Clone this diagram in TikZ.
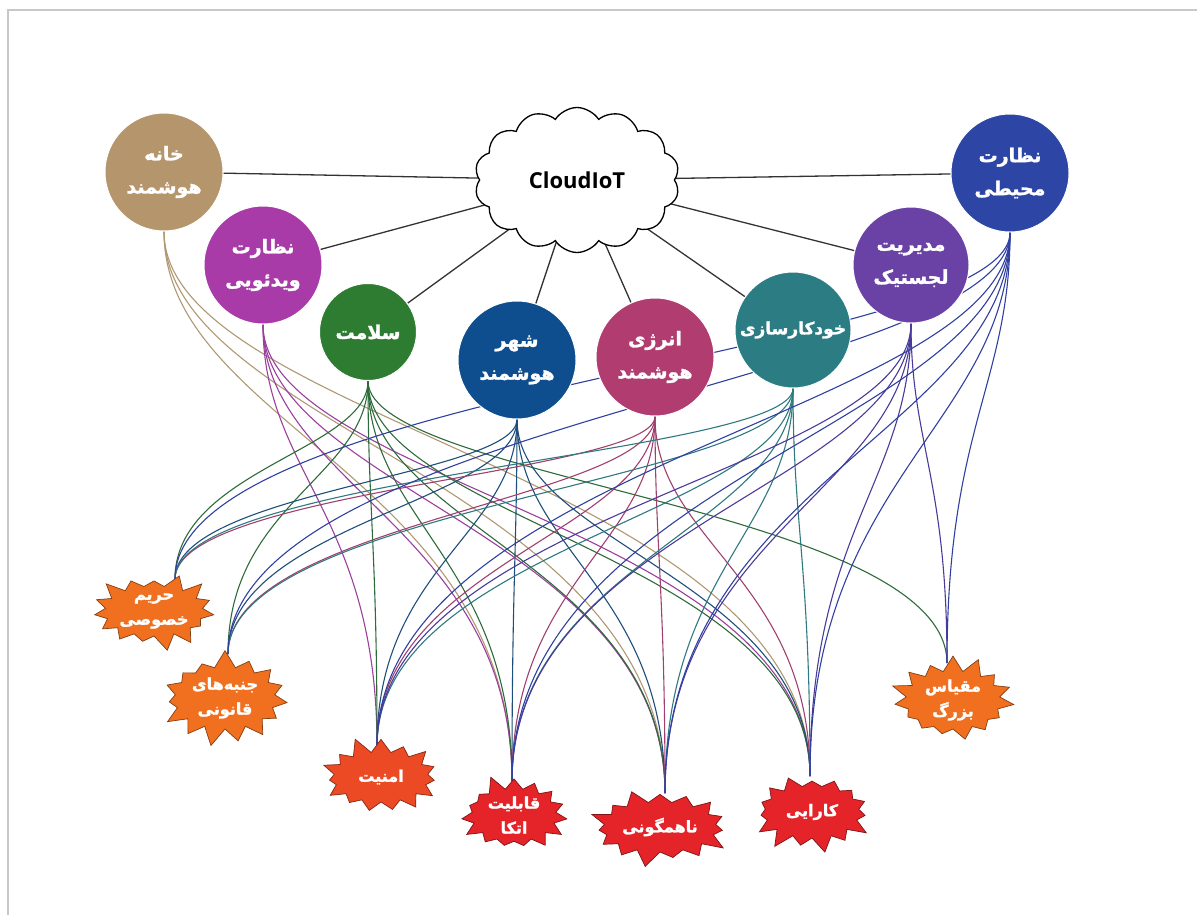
\documentclass[tikz,border=0pt]{standalone}
\usepackage{fontspec}
\setmainfont{Open Sans}
\newfontfamily\fafont[Script=Arabic,FakeBold=1.5]{DejaVu Sans}
\TeXXeTstate=1
\usetikzlibrary{shapes.symbols,shapes.geometric,calc,backgrounds}
\newcommand\faT[1]{{\fafont\bfseries\beginR #1\endR}}
\definecolor{cHome}{HTML}{B5966C}
\definecolor{cVideo}{HTML}{A83BA8}
\definecolor{cHealth}{HTML}{2E7B32}
\definecolor{cCity}{HTML}{0E4E8E}
\definecolor{cEnergy}{HTML}{B03C70}
\definecolor{cAuto}{HTML}{2C7C84}
\definecolor{cLogis}{HTML}{6A42A5}
\definecolor{cEnv}{HTML}{2D45A5}
\definecolor{lHome}{HTML}{B09873}
\definecolor{lVideo}{HTML}{9B3F9E}
\definecolor{lHealth}{HTML}{2E6B3A}
\definecolor{lCity}{HTML}{1F4E7A}
\definecolor{lEnergy}{HTML}{A0406E}
\definecolor{lAuto}{HTML}{2F7A80}
\definecolor{lLogis}{HTML}{4A3A9A}
\definecolor{lEnv}{HTML}{3040A0}
\definecolor{sOrange}{HTML}{F07020}
\definecolor{sRedOr}{HTML}{EC4A24}
\definecolor{sRed}{HTML}{E42428}
\definecolor{frame}{HTML}{C8C8C8}
\newcommand\lnk[3]{\draw[#1] let \p1=(#2.south), \p2=(#3) in (\p1) .. controls (\x1,{\y1-0.35*(\y1-\y2)}) and (\x2,{\y2+0.55*(\y1-\y2)}) .. (\p2);}
\tikzset{
  topic/.style={circle, fill=#1, draw=white, line width=1pt, text=white, inner sep=0pt, minimum size=118pt, align=center, font=\fontsize{19}{33}\selectfont},
  burst/.style={starburst, fill=#1, draw=#1!55!black, line width=0.7pt, text=white, inner sep=0pt, align=center, font=\fontsize{16}{25}\selectfont, starburst points=15},
  tie/.style={draw=black!80, line width=1.3pt},
  curve/.style={line width=1.1pt}
}
\begin{document}
\begin{tikzpicture}[x=1pt,y=-1pt]
\useasboundingbox (0,0) rectangle (1197,915);
\draw[frame, line width=2pt] (8,915) -- (8,10) -- (1197,10);
% cloud
\node[cloud, cloud puffs=14, cloud puff arc=115, aspect=1.45, draw, fill=white, line width=1.3pt, minimum width=205pt, minimum height=145pt, font=\fontsize{22}{24}\selectfont\bfseries] (cloud) at (577,180) {CloudIoT};
% topics
\node[topic=cHome] (home) at (164,172) {\faT{خانه}\\\faT{هوشمند}};
\node[topic=cVideo] (video) at (263,265) {\faT{نظارت}\\\faT{ویدئویی}};
\node[topic=cHealth, minimum size=97pt] (health) at (368,332) {\faT{سلامت}};
\node[topic=cCity] (city) at (517,360) {\faT{شهر}\\\faT{هوشمند}};
\node[topic=cEnergy] (energy) at (655,357) {\faT{انرژی}\\\faT{هوشمند}};
\node[topic=cAuto, minimum size=116pt, font=\fontsize{17}{30}\selectfont] (auto) at (793,330) {\faT{خودکارسازی}};
\node[topic=cLogis, minimum size=116pt] (logis) at (911,265) {\faT{مدیریت}\\\faT{لجستیک}};
\node[topic=cEnv] (env) at (1010,173) {\faT{نظارت}\\\faT{محیطی}};
% challenges
\node[burst=sOrange, minimum width=114pt, minimum height=82pt, starburst point height=16pt, random starburst=3] (A) at (154,611) {\faT{حریم}\\\faT{خصوصی}};
\node[burst=sOrange, minimum width=136pt, minimum height=98pt, starburst point height=18pt, random starburst=7] (B) at (225,698) {\faT{جنبه‌های}\\\faT{قانونی}};
\node[burst=sRedOr, minimum width=128pt, minimum height=84pt, starburst point height=17pt, random starburst=11] (C) at (381,777) {\faT{امنیت}};
\node[burst=sRed, minimum width=116pt, minimum height=84pt, starburst point height=16pt, random starburst=5] (D) at (514,815) {\faT{قابلیت}\\\faT{اتکا}};
\node[burst=sRed, minimum width=146pt, minimum height=84pt, starburst point height=17pt, random starburst=9] (E) at (660,827) {\faT{ناهمگونی}};
\node[burst=sRed, minimum width=128pt, minimum height=86pt, starburst point height=17pt, random starburst=13] (F) at (812,812) {\faT{کارایی}};
\node[burst=sOrange, minimum width=128pt, minimum height=84pt, starburst point height=17pt, random starburst=17] (G) at (953,700) {\faT{مقیاس}\\\faT{بزرگ}};
\coordinate (At) at (175,579);
\coordinate (Bt) at (228,654);
\coordinate (Ct) at (377,746);
\coordinate (Dt) at (512,781);
\coordinate (Et) at (665,793);
\coordinate (Ft) at (810,776);
\coordinate (Gt) at (947,663);
\begin{scope}[on background layer]
\foreach \t in {home,video,health,city,energy,auto,logis,env}
  \draw[tie] (cloud.center) -- (\t);
\begin{scope}[curve]
\foreach \b in {Dt,Et,Ft} {\lnk{lHome}{home}{\b}}
\foreach \b in {Ct,Dt,Et,Ft} {\lnk{lVideo}{video}{\b}}
\foreach \b in {At,Bt,Ct,Dt,Et,Ft,Gt} {\lnk{lHealth}{health}{\b}}
\foreach \b in {At,Bt,Ct,Dt,Et,Ft} {\lnk{lCity}{city}{\b}}
\foreach \b in {At,Bt,Ct,Dt,Et,Ft} {\lnk{lEnergy}{energy}{\b}}
\foreach \b in {At,Bt,Ct,Dt,Et,Ft} {\lnk{lAuto}{auto}{\b}}
\foreach \b in {Ct,Dt,Et,Ft,Gt} {\lnk{lLogis}{logis}{\b}}
\foreach \b in {At,Bt,Ct,Dt,Et,Ft,Gt} {\lnk{lEnv}{env}{\b}}
\end{scope}
\end{scope}
\end{tikzpicture}
\end{document}
